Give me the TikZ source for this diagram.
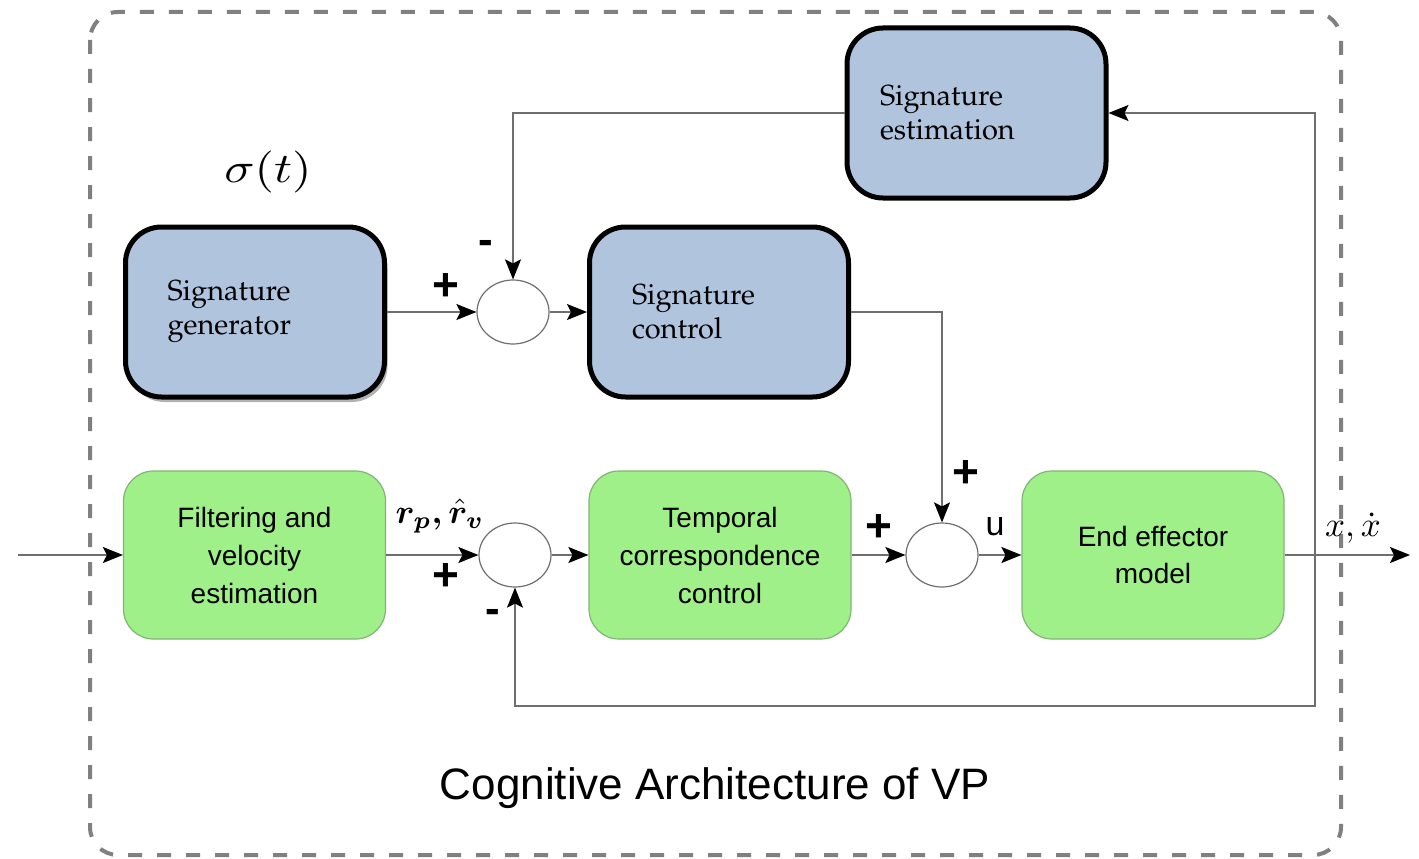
\documentclass[tikz,border=0pt]{standalone}
\usepackage{amsmath,bm,graphicx}
\usepackage[T1]{fontenc}
\usepackage{fontspec}
\setsansfont{Liberation Sans}
\usetikzlibrary{shapes.geometric,arrows.meta,shadows}
\newcommand\palfont{\fontencoding{T1}\fontfamily{ppl}\selectfont}
\definecolor{blueF}{HTML}{B0C4DE}
\definecolor{greenF}{RGB}{160,240,138}
\definecolor{greenD}{RGB}{130,180,115}
\definecolor{lineC}{HTML}{6E6E6E}
\definecolor{dashC}{HTML}{808080}
\begin{document}
\begin{tikzpicture}[x=1pt,y=-1pt,
  bluebox/.style={draw=black, line width=5pt, fill=blueF, rounded corners=36pt,
    minimum width=259pt, minimum height=170pt, align=left, inner sep=0pt,
    font=\palfont\fontsize{29}{34}\selectfont},
  greenbox/.style={draw=greenD, line width=1.2pt, fill=greenF, rounded corners=30pt,
    minimum width=262pt, minimum height=168pt, align=center, inner sep=0pt,
    font=\sffamily\fontsize{28}{38}\selectfont},
  sumnode/.style={ellipse, draw=lineC, line width=1.2pt, fill=white,
    minimum width=72pt, minimum height=64pt, inner sep=0pt},
  conn/.style={draw=lineC, line width=1.5pt},
  arr/.style={conn, -{Stealth[length=20pt,width=16pt,inset=4pt,color=black]}},
  plus/.style={font=\sffamily\bfseries\fontsize{46}{46}\selectfont, inner sep=0pt},
  minus/.style={font=\sffamily\bfseries\fontsize{44}{44}\selectfont, inner sep=0pt},
  lab/.style={inner sep=0pt}
]
\useasboundingbox (0,0) rectangle (1419,859);
% frame
\draw[dashC, line width=4pt, dash pattern=on 14pt off 15pt, rounded corners=28pt]
  (90,12) rectangle (1341,855);

% blue boxes
\node[bluebox, text width=193pt] (est) at (976.5,113) {Signature\\estimation};
\node[bluebox, text width=175pt, drop shadow={shadow xshift=3pt, shadow yshift=-5pt, opacity=0.3, fill=black}] (gen) at (255,312) {Signature\\generator};
\node[bluebox, text width=174pt] (ctrl) at (719,312) {Signature\\control};

% green boxes
\node[greenbox] (filt) at (254.5,555) {Filtering and\\velocity\\estimation};
\node[greenbox] (temp) at (720,555) {Temporal\\correspondence\\control};
\node[greenbox, font=\sffamily\fontsize{28}{37}\selectfont] (endm) at (1153,555) {End effector\\model};

% summing junctions
\node[sumnode] (s1) at (513,312) {};
\node[sumnode] (s2) at (515,555) {};
\node[sumnode] (s3) at (942,555) {};

% connectors
\coordinate (in) at (18,555);
\coordinate (out) at (1410,555);
\coordinate (br) at (1315,555);
\coordinate (fbb) at (1315,706);

\draw[arr] (gen) -- (s1);
\draw[arr] (s1) -- (ctrl);
\draw[arr] (est.west) -| (s1.north);
\draw[arr] (ctrl.east) -| (s3.north);
\draw[arr] (in) -- (filt.west);
\draw[arr] (filt) -- (s2);
\draw[arr] (s2) -- (temp);
\draw[arr] (temp) -- (s3);
\draw[arr] (s3) -- (endm);
\draw[arr] (endm) -- (out);
\draw[arr] (br) |- (est.east);
\draw[arr] (br) -- (fbb) -| (s2.south);

% labels
\node[lab] (sigma) at (268,172) {\scalebox{5.0}[4.2]{$\sigma(t)$}};
\node[lab] (rp) at (440,516) {\scalebox{3.4}{$\bm{r_p,\hat{r}_v}$}};
\node[lab] (xo) at (1353,528) {\scalebox{3.5}{$x,\dot{x}$}};
\node[plus] (p1) at (446,287) {+};
\node[minus] (m1) at (486,247) {-};
\node[plus] (p2) at (446,577) {+};
\node[minus] (m2) at (493,616) {-};
\node[plus] (p3) at (879,528) {+};
\node[plus] (p4) at (966,474) {+};
\node[lab, font=\sffamily\fontsize{34}{34}\selectfont] (u) at (995,527) {u};
\node[lab, font=\sffamily\fontsize{44}{44}\selectfont] (cap) at (715,788) {Cognitive Architecture of VP};
\end{tikzpicture}
\end{document}
